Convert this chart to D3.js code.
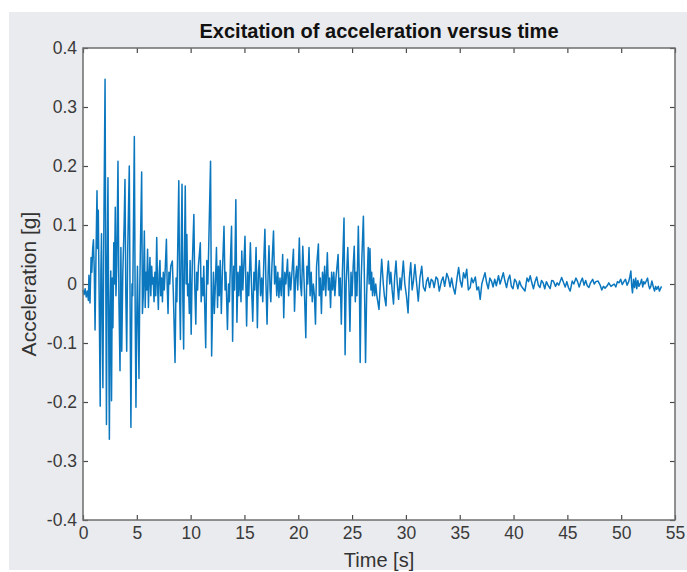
<!DOCTYPE html>
<html>
<head>
<meta charset="utf-8">
<script src="https://cdn.jsdelivr.net/npm/d3@7"></script>
<style>
  body { margin: 0; background: #fff; }
  svg { display: block; font-family: "Liberation Sans", Arial, Helvetica, sans-serif; }
</style>
</head>
<body>
<div id="chart"></div>
<script>
// tick values
var xTicks = [0, 5, 10, 15, 20, 25, 30, 35, 40, 45, 50, 55];
var yTicks = [-0.4, -0.3, -0.2, -0.1, 0, 0.1, 0.2, 0.3, 0.4];

// [time s, acceleration g], strong shaking part
var strongPhase = [
  [0.0,-0.010],[0.1,-0.018],[0.2,-0.008],[0.3,-0.022],[0.4,-0.012],[0.5,-0.028],[0.55,0.015],[0.65,-0.032],
  [0.75,0.045],[0.82,0.02],[0.9,0.06],[0.97,0.075],[1.05,0.02],[1.12,-0.078],[1.2,0.04],[1.3,0.158],
  [1.36,0.06],[1.42,0.125],[1.5,-0.02],[1.6,-0.207],[1.66,0.02],[1.72,0.085],[1.78,-0.05],[1.85,-0.176],
  [1.92,0.05],[2.05,0.347],[2.12,0.0],[2.18,-0.238],[2.24,0.02],[2.32,0.18],[2.38,-0.05],[2.45,-0.263],
  [2.52,-0.04],[2.58,0.022],[2.65,-0.198],[2.72,0.01],[2.78,-0.074],[2.86,0.07],[2.92,0.0],[3.0,0.13],
  [3.06,-0.02],[3.14,0.03],[3.25,0.208],[3.34,-0.03],[3.44,-0.147],[3.52,0.062],[3.6,-0.114],[3.7,0.02],
  [3.82,0.1],[3.9,0.177],[3.98,-0.02],[4.06,-0.114],[4.15,0.05],[4.3,0.2],[4.38,-0.05],[4.45,-0.243],
  [4.55,0.0],[4.62,-0.02],[4.7,0.12],[4.77,0.25],[4.85,-0.05],[4.92,-0.209],[5.0,-0.05],[5.06,0.03],
  [5.12,-0.05],[5.2,-0.16],[5.28,0.0],[5.35,0.08],[5.45,0.19],[5.52,-0.05],[5.6,-0.02],[5.7,0.09],
  [5.78,-0.04],[5.85,0.02],[5.92,-0.01],[6.0,0.059],[6.08,-0.04],[6.15,0.01],[6.22,0.045],[6.3,-0.02],
  [6.38,0.03],[6.45,0.0],[6.52,0.011],[6.6,-0.03],[6.68,0.02],[6.76,-0.02],[6.85,0.079],[6.92,0.0],
  [7.0,-0.043],[7.08,0.02],[7.15,0.04],[7.22,-0.02],[7.3,0.01],[7.38,-0.03],[7.46,0.02],[7.55,-0.01],
  [7.65,0.03],[7.75,0.076],[7.82,0.0],[7.9,-0.05],[7.98,0.02],[8.06,0.0]
];

// 8 s to 27 s
var midPhase = [
  [8.15,0.03],[8.3,0.039],[8.4,-0.02],[8.55,-0.133],[8.65,0.01],[8.72,-0.03],[8.9,0.175],[8.98,-0.02],
  [9.05,-0.094],[9.12,0.05],[9.2,0.169],[9.28,-0.03],[9.35,-0.11],[9.42,0.04],[9.5,0.166],[9.58,0.0],
  [9.65,0.084],[9.72,-0.02],[9.8,0.0],[9.88,-0.05],[9.95,0.04],[10.05,-0.085],[10.15,0.03],[10.3,0.118],
  [10.38,0.0],[10.48,-0.068],[10.56,0.02],[10.65,-0.01],[10.72,0.03],[10.9,0.07],[10.98,-0.03],[11.05,0.01],
  [11.15,-0.02],[11.22,0.03],[11.4,-0.108],[11.5,0.04],[11.6,0.0],[11.7,0.08],[11.85,0.208],[11.95,-0.122],
  [12.05,-0.03],[12.12,0.02],[12.2,-0.05],[12.3,0.0],[12.4,0.062],[12.5,-0.04],[12.58,0.03],[12.66,-0.02],
  [12.75,0.04],[12.85,-0.05],[12.95,0.02],[13.1,0.098],[13.2,-0.01],[13.28,0.02],[13.42,-0.077],[13.52,0.0],
  [13.6,-0.03],[13.7,0.04],[13.8,0.098],[13.9,-0.097],[14.0,0.03],[14.08,-0.01],[14.2,0.143],[14.3,-0.065],
  [14.4,0.02],[14.48,-0.02],[14.58,0.03],[14.68,-0.03],[14.75,0.056],[14.85,-0.01],[15.05,0.081],[15.2,-0.071],
  [15.3,0.02],[15.4,-0.02],[15.55,0.07],[15.65,0.0],[15.77,-0.063],[15.88,0.02],[15.96,-0.01],[16.08,0.062],
  [16.2,-0.074],[16.3,0.02],[16.38,0.04],[16.5,-0.02],[16.6,0.01],[16.7,-0.03],[16.8,0.04],[16.9,0.093],
  [17.0,0.0],[17.1,-0.068],[17.2,0.02],[17.28,0.065],[17.38,-0.01],[17.45,-0.03],[17.55,0.03],[17.7,0.09],
  [17.8,0.0],[17.9,0.03],[18.0,-0.02],[18.1,0.02],[18.2,-0.023],[18.3,0.01],[18.42,-0.02],[18.55,0.05],
  [18.65,-0.057],[18.75,0.02],[18.85,0.0],[19.0,0.042],[19.1,-0.02],[19.2,0.02],[19.3,-0.01],[19.45,0.03],
  [19.55,0.059],[19.65,-0.046],[19.75,0.01],[19.85,0.03],[19.95,-0.01],[20.1,0.078],[20.2,0.0],[20.3,-0.02],
  [20.42,0.064],[20.55,0.0],[20.7,-0.091],[20.8,0.03],[20.88,0.0],[21.0,0.062],[21.1,-0.02],[21.2,0.02],
  [21.3,-0.03],[21.4,0.0],[21.5,-0.02],[21.6,-0.068],[21.7,0.03],[21.87,0.068],[21.95,-0.02],[22.05,0.01],
  [22.15,-0.05],[22.25,0.02],[22.35,-0.01],[22.45,0.03],[22.55,-0.02],[22.7,0.053],[22.8,-0.01],[22.9,0.01],
  [23.0,-0.04],[23.1,0.02],[23.2,-0.01],[23.3,0.02],[23.4,-0.02],[23.5,0.01],[23.7,0.05],[23.8,-0.02],
  [23.9,0.01],[24.0,-0.068],[24.1,0.02],[24.25,0.112],[24.35,-0.12],[24.45,0.0],[24.6,0.062],[24.7,0.0],
  [24.8,-0.08],[24.9,0.02],[25.0,-0.02],[25.1,0.03],[25.2,0.064],[25.3,-0.03],[25.38,0.02],[25.45,-0.02],
  [25.58,0.098],[25.68,0.0],[25.75,-0.133],[25.85,0.01],[25.92,0.05],[26.05,0.115],[26.15,0.0],[26.25,-0.133],
  [26.35,-0.02],[26.5,0.062],[26.58,0.0],[26.66,0.06],[26.75,-0.01],[26.82,0.02],[26.9,-0.02],[27.0,0.01],
  [27.1,-0.02],[27.2,0.0]
];

// decaying coda, 27 s to the end
var coda = [
  [27.3,-0.02],[27.5,-0.043],[27.62,0.0],[27.75,0.042],[27.9,0.0],[28.0,-0.02],[28.15,-0.037],[28.25,0.01],
  [28.37,0.039],[28.5,0.0],[28.6,0.02],[28.72,-0.01],[28.85,-0.034],[28.95,0.01],[29.08,0.039],[29.2,0.0],
  [29.32,-0.026],[29.45,0.01],[29.55,-0.01],[29.76,0.039],[29.9,0.0],[30.05,-0.02],[30.2,-0.049],[30.32,0.01],
  [30.45,0.036],[30.58,-0.01],[30.7,0.005],[30.84,0.033],[31.0,0.0],[31.15,-0.029],[31.3,0.01],[31.47,0.03],
  [31.62,-0.005],[31.78,-0.012],[31.92,0.005],[32.05,0.011],[32.2,-0.006],[32.35,0.008],[32.5,0.005],[32.62,-0.006],
  [32.8,0.012],[32.95,0.008],[33.1,-0.012],[33.3,0.005],[33.45,0.012],[33.6,-0.004],[33.8,0.018],[33.95,0.01],
  [34.1,-0.005],[34.25,0.01],[34.4,-0.006],[34.56,-0.017],[34.75,0.01],[34.9,0.028],[35.05,0.005],[35.2,-0.005],
  [35.35,0.019],[35.5,0.01],[35.65,0.025],[35.8,-0.01],[35.97,-0.006],[36.1,0.01],[36.25,0.002],[36.45,0.012],
  [36.6,-0.01],[36.75,-0.005],[36.9,-0.026],[37.05,0.0],[37.2,0.01],[37.35,0.019],[37.5,0.002],[37.65,-0.008],
  [37.8,0.01],[37.95,0.005],[38.1,-0.005],[38.25,0.008],[38.4,-0.003],[38.6,0.014],[38.75,0.0],[39.05,0.019],
  [39.2,0.005],[39.35,-0.006],[39.5,0.008],[39.65,0.015],[39.8,-0.004],[39.95,-0.008],[40.1,0.008],[40.25,0.004],
  [40.4,-0.008],[40.55,0.005],[40.7,-0.003],[40.9,-0.008],[41.06,-0.012],[41.25,0.01],[41.4,0.004],[41.55,0.014],
  [41.7,0.002],[41.85,-0.008],[42.0,0.004],[42.15,0.012],[42.3,-0.002],[42.45,-0.006],[42.6,0.006],[42.75,0.002],
  [42.9,-0.008],[43.05,0.004],[43.2,-0.002],[43.4,-0.008],[43.55,0.006],[43.7,0.005],[43.9,-0.004],[44.05,0.002],
  [44.2,-0.002],[44.47,0.011],[44.65,0.002],[44.8,-0.005],[44.95,0.004],[45.1,-0.006],[45.26,-0.012],[45.45,0.005],
  [45.6,0.0],[45.8,0.01],[45.95,0.004],[46.1,-0.005],[46.25,0.004],[46.4,0.01],[46.55,-0.002],[46.7,0.006],
  [46.85,-0.003],[47.0,-0.006],[47.15,0.002],[47.35,0.008],[47.5,0.0],[47.65,0.004],[47.85,0.005],[48.05,-0.002],
  [48.2,-0.01],[48.35,-0.004],[48.5,-0.007],[48.7,-0.003],[48.85,0.002],[49.05,-0.004],[49.2,-0.002],[49.35,0.0],
  [49.5,-0.005],[49.65,0.004],[49.8,0.002],[49.95,0.008],[50.1,-0.001],[50.25,0.004],[50.4,0.008],[50.55,-0.002],
  [50.7,0.004],[50.8,0.012],[50.9,0.022],[50.98,-0.004],[51.05,-0.015],[51.15,0.008],[51.25,-0.006],[51.35,0.01],
  [51.45,-0.008],[51.55,0.006],[51.65,-0.004],[51.8,0.002],[51.9,0.008],[52.0,-0.005],[52.1,0.004],[52.2,0.0],
  [52.35,0.006],[52.45,0.01],[52.55,-0.002],[52.65,-0.008],[52.75,-0.004],[52.85,0.005],[53.0,-0.006],[53.1,-0.012],
  [53.2,-0.004],[53.3,-0.009],[53.45,-0.004],[53.55,-0.012],[53.65,-0.008],[53.75,-0.004]
];

var record = strongPhase.concat(midPhase, coda);

var W = 687, H = 572;
var margin = {top: 48, right: 12, bottom: 52, left: 83},
    width = 592,
    height = 472;

var svg = d3.select("#chart").append("svg")
    .attr("width", W)
    .attr("height", H);

// figure background
svg.append("rect")
    .attr("x", 9).attr("y", 12)
    .attr("width", W - 9).attr("height", H - 14)
    .attr("fill", "#eaebee");

var g = svg.append("g")
    .attr("transform", "translate(" + margin.left + "," + margin.top + ")");

g.append("rect")
    .attr("width", width)
    .attr("height", height)
    .attr("fill", "#fff");

var x = d3.scaleLinear().domain([0, 55]).range([0, width]);
var y = d3.scaleLinear().domain([-0.4, 0.4]).range([height, 0]);

var line = d3.line()
    .x(function(d) { return x(d[0]); })
    .y(function(d) { return y(d[1]); });

g.append("path")
    .datum(record)
    .attr("fill", "none")
    .attr("stroke", "#0a77bf")
    .attr("stroke-width", 1.5)
    .attr("stroke-linejoin", "round")
    .attr("d", line);

// plain hyphen for negatives, like the original
var fmt = function(d) { return d === 0 ? "0" : d3.format(".1f")(d).replace("\u2212", "-"); };

var xAxis = g.append("g")
    .attr("transform", "translate(0," + height + ")")
    .call(d3.axisBottom(x).tickValues(xTicks).tickSizeInner(-5).tickSizeOuter(0).tickPadding(7));
var yAxis = g.append("g")
    .call(d3.axisLeft(y).tickValues(yTicks).tickFormat(fmt).tickSizeInner(-5).tickSizeOuter(0).tickPadding(6));
var topAxis = g.append("g")
    .call(d3.axisTop(x).tickValues(xTicks).tickFormat("").tickSizeInner(-5).tickSizeOuter(0));
var rightAxis = g.append("g")
    .attr("transform", "translate(" + width + ",0)")
    .call(d3.axisRight(y).tickValues(yTicks).tickFormat("").tickSizeInner(-5).tickSizeOuter(0));

[xAxis, yAxis, topAxis, rightAxis].forEach(function(a) {
  a.select(".domain").remove();
  a.selectAll(".tick line").attr("stroke", "#4a4a4a").attr("stroke-width", 1.2);
  a.selectAll(".tick text")
      .attr("fill", "#3a3a3a")
      .style("font-size", "17.5px")
      .style("font-family", "'Liberation Sans', Arial, sans-serif");
});

// box
g.append("rect")
    .attr("width", width)
    .attr("height", height)
    .attr("fill", "none")
    .attr("stroke", "#6e6e6e")
    .attr("stroke-width", 1.5);

// title and labels
svg.append("text")
    .attr("x", margin.left + width / 2)
    .attr("y", 38)
    .attr("text-anchor", "middle")
    .style("font-size", "20px")
    .style("font-weight", "bold")
    .attr("fill", "#111")
    .text("Excitation of acceleration versus time");

svg.append("text")
    .attr("x", margin.left + width / 2)
    .attr("y", 567)
    .attr("text-anchor", "middle")
    .style("font-size", "20px")
    .attr("fill", "#333")
    .text("Time [s]");

svg.append("text")
    .attr("transform", "translate(36," + (margin.top + height / 2) + ") rotate(-90)")
    .attr("text-anchor", "middle")
    .style("font-size", "21px")
    .attr("fill", "#333")
    .text("Acceleration [g]");
</script>
</body>
</html>
